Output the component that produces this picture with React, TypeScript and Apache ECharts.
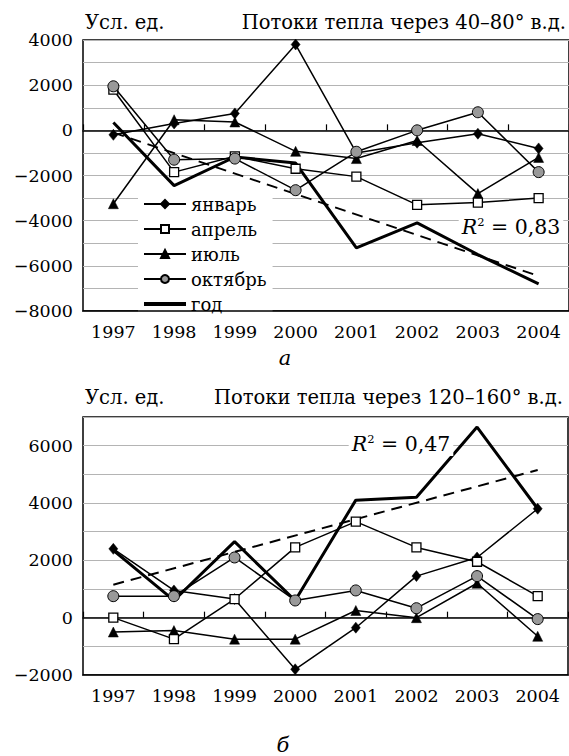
import React, { useEffect, useRef } from 'react';
import * as echarts from 'echarts';

const years = ['1997', '1998', '1999', '2000', '2001', '2002', '2003', '2004'];
const names = ['январь', 'апрель', 'июль', 'октябрь', 'год'];

// Panel а: 40–80° в.д.
const westJan = [-200, 300, 750, 3800, -1000, -550, -150, -800];
const westApr = [1800, -1850, -1150, -1700, -2050, -3300, -3200, -3000];
const westJul = [-3250, 470, 370, -930, -1250, -450, -2800, -1200];
const westOct = [1950, -1300, -1250, -2650, -950, 0, 800, -1850];
const westYear = [350, -2450, -1180, -1450, -5200, -4100, -5500, -6800];
const westTrend = [-100, -6450]; // trend line values at 1997 and 2004

// Panel б: 120–160° в.д.
const eastJan = [2400, 950, 650, -1800, -350, 1450, 2100, 3800];
const eastApr = [0, -750, 650, 2450, 3350, 2450, 1950, 750];
const eastJul = [-500, -450, -750, -750, 250, 0, 1200, -650];
const eastOct = [750, 750, 2100, 600, 950, 330, 1450, -50];
const eastYear = [2350, 600, 2650, 600, 4100, 4200, 6650, 3800];
const eastTrend = [1150, 5150];

const westTitle = 'Потоки тепла через 40–80° в.д.';
const eastTitle = 'Потоки тепла через 120–160° в.д.';
const unitLabel = 'Усл. ед.';
const westR2 = '0,83';
const eastR2 = '0,47';

const FONT = "'DejaVu Serif', 'Liberation Serif', serif";

function fmt(v: number) {
  if (v % 2000 !== 0) return '';
  return v < 0 ? '\u2212' + Math.abs(v) : String(v);
}

function seriesFor(g: number, jan: number[], apr: number[], jul: number[], oct: number[], yr: number[], trend: number[]) {
  const base = {
    type: 'line',
    xAxisIndex: g * 2,
    yAxisIndex: g,
    lineStyle: { color: '#000', width: 1.5 },
  };
  return [
    {
      ...base, name: names[4], data: yr, symbol: 'none', showSymbol: false,
      lineStyle: { color: '#000', width: 3 }, itemStyle: { color: '#000' }, z: 2,
    },
    {
      ...base, name: 'trend' + g,
      data: [[years[0], trend[0]], [years[years.length - 1], trend[1]]],
      symbol: 'none', showSymbol: false,
      lineStyle: { color: '#000', width: 2, type: [11, 7] }, z: 2,
    },
    {
      ...base, name: names[0], data: jan, symbol: 'diamond', symbolSize: [9, 11],
      itemStyle: { color: '#000', borderColor: '#000', borderWidth: 0.5 }, z: 3,
    },
    {
      ...base, name: names[1], data: apr, symbol: 'rect', symbolSize: 9,
      itemStyle: { color: '#fff', borderColor: '#000', borderWidth: 1.3 }, z: 4,
    },
    {
      ...base, name: names[2], data: jul, symbol: 'triangle', symbolSize: 10,
      itemStyle: { color: '#000', borderColor: '#000', borderWidth: 0.5 }, z: 3,
    },
    {
      ...base, name: names[3], data: oct, symbol: 'circle', symbolSize: 11,
      itemStyle: { color: '#999', borderColor: '#000', borderWidth: 1 }, z: 5,
    },
  ];
}

function xAxesFor(g: number) {
  return [
    {
      type: 'category', gridIndex: g, data: years, position: 'bottom', z: 10,
      axisLine: { onZero: false, lineStyle: { color: '#000', width: 1.5 } },
      axisTick: { show: false },
      axisLabel: { color: '#000', fontFamily: FONT, fontSize: 17.5, margin: 12, interval: 0 },
      splitLine: { show: false },
    },
    {
      type: 'category', gridIndex: g, data: years, position: 'bottom',
      axisLine: { onZero: true, lineStyle: { color: '#000', width: 1.5 } },
      axisTick: { show: true, inside: true, length: 6, interval: 0, lineStyle: { color: '#000', width: 1.2 } },
      axisLabel: { show: false },
      splitLine: { show: false },
    },
  ];
}

function yAxisFor(g: number, min: number, max: number) {
  return {
    type: 'value', gridIndex: g, min, max, interval: 1000,
    axisLine: { show: false }, axisTick: { show: false },
    splitLine: { lineStyle: { color: '#b4b4b4', width: 1.2 } },
    axisLabel: { color: '#000', fontFamily: FONT, fontSize: 17.5, margin: 10, formatter: fmt },
  };
}

function r2Text(x: number, y: number, val: string) {
  return {
    type: 'text', x, y, z: 50,
    style: {
      text: '{i|R}{s|2}{n| = ' + val + '}',
      align: 'center', verticalAlign: 'middle',
      backgroundColor: '#fff', padding: [1, 3, 1, 3],
      rich: {
        i: { fontFamily: FONT, fontSize: 20.5, fontStyle: 'italic', fill: '#000', lineHeight: 22 },
        s: { fontFamily: FONT, fontSize: 11.5, fill: '#000', verticalAlign: 'top', lineHeight: 22 },
        n: { fontFamily: FONT, fontSize: 20.5, fill: '#000', lineHeight: 22 },
      },
    },
  };
}

function plainText(x: number, y: number, text: string, align: string, size = 19.5, italic = false) {
  return {
    type: 'text', x, y, z: 50,
    style: {
      text, fill: '#000', align, verticalAlign: 'middle',
      fontFamily: FONT, fontSize: size, fontStyle: italic ? 'italic' : 'normal',
    },
  };
}

export default function App() {
  const ref = useRef<HTMLDivElement>(null);
  useEffect(() => {
    if (!ref.current) return;
    const chart = echarts.init(ref.current, null, { renderer: 'svg' });
    chart.setOption({
      animation: false,
      backgroundColor: '#fff',
      grid: [
        { left: 83, top: 40, width: 487, height: 271, show: true, borderColor: '#000', borderWidth: 1.5 },
        { left: 83, top: 417, width: 485, height: 258, show: true, borderColor: '#000', borderWidth: 1.5 },
      ],
      xAxis: [...xAxesFor(0), ...xAxesFor(1)],
      yAxis: [yAxisFor(0, -8000, 4000), yAxisFor(1, -2000, 7000)],
      legend: {
        data: [
          names[0], names[1], names[2], names[3],
          { name: names[4], icon: 'path://M0 0H42V4H0Z' },
        ],
        orient: 'vertical',
        left: 138,
        top: 190,
        padding: [5, 6, 0, 5],
        itemWidth: 42,
        itemHeight: 10,
        itemGap: 7,
        backgroundColor: '#fff',
        selectedMode: false,
        textStyle: { fontFamily: FONT, fontSize: 18, color: '#000', lineHeight: 18 },
      },
      series: [
        ...seriesFor(0, westJan, westApr, westJul, westOct, westYear, westTrend),
        ...seriesFor(1, eastJan, eastApr, eastJul, eastOct, eastYear, eastTrend),
      ],
      graphic: [
        plainText(85, 22, unitLabel, 'left'),
        plainText(566, 22, westTitle, 'right'),
        plainText(85, 397, unitLabel, 'left'),
        plainText(563, 397, eastTitle, 'right'),
        r2Text(511, 227, westR2),
        r2Text(401, 444, eastR2),
        plainText(285, 358, 'а', 'center', 21, true),
        plainText(283, 745, 'б', 'center', 21, true),
      ],
    });
    return () => chart.dispose();
  }, []);
  return (
    <div
      ref={ref}
      style={{ position: 'absolute', left: 0, top: 0, width: 569, height: 756, background: '#fff' }}
    />
  );
}
